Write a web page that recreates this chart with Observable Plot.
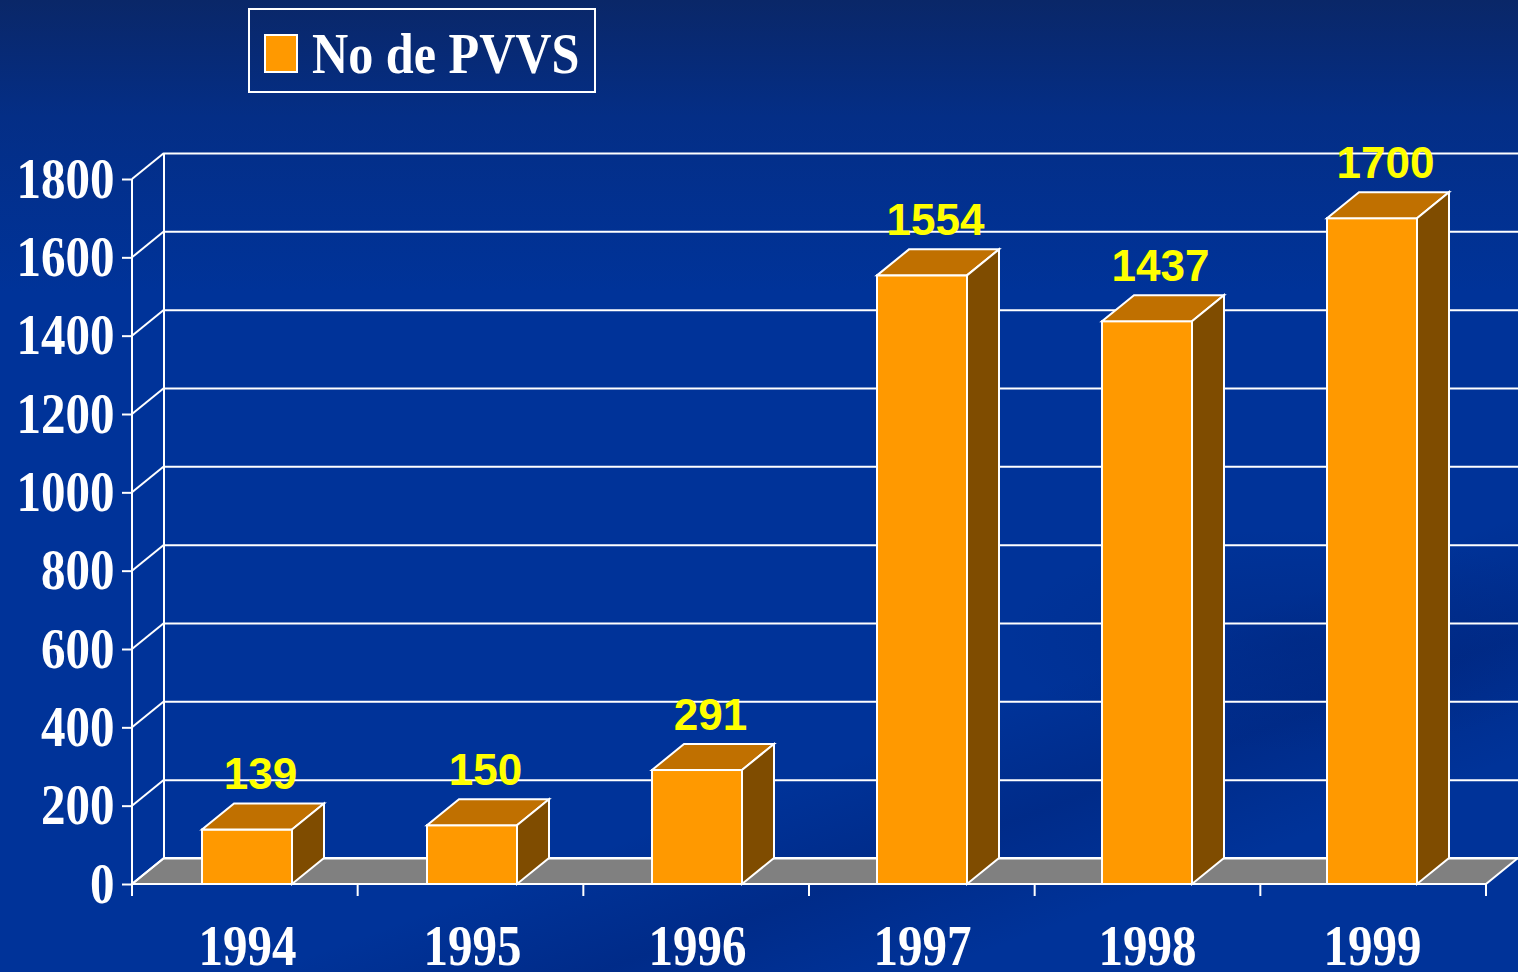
<!DOCTYPE html>
<html>
<head>
<meta charset="utf-8">
<script src="https://cdn.jsdelivr.net/npm/d3@7"></script>
<script src="https://cdn.jsdelivr.net/npm/@observablehq/plot@0.6"></script>
<style>
  html, body { margin: 0; padding: 0; }
  body {
    width: 1518px; height: 972px; overflow: hidden; position: relative;
    background:
      radial-gradient(ellipse 420px 160px at 1300px 640px, rgba(0,30,110,0.30), rgba(0,30,110,0) 70%),
      linear-gradient(160deg, rgba(0,0,0,0) 70%, rgba(0,25,100,0.30) 78%, rgba(0,0,0,0) 86%),
      linear-gradient(180deg, #0a2768 0%, #042e86 12%, #003399 30%, #003399 100%);
  }
  #legend { position: absolute; left: 248px; top: 8px; }
  #chart { position: absolute; left: 0; top: 100px; }
  #chart svg { background: transparent !important; overflow: visible; }
  #chart g[aria-label="y-axis tick label"], #chart g[aria-label="x-axis tick label"] {
    font-family: "Liberation Serif", "Times New Roman", serif; font-weight: bold; font-size: 57px;
  }
  #chart g[aria-label="value labels"] {
    font-family: "Liberation Sans", Arial, sans-serif; font-weight: bold; font-size: 44px;
  }
</style>
</head>
<body>
<div id="legend"></div>
<div id="chart"></div>
<script>
// ---- data ----
const years = ["1994", "1995", "1996", "1997", "1998", "1999"];
const counts = [139, 150, 291, 1554, 1437, 1700];
const yTicks = [0, 200, 400, 600, 800, 1000, 1200, 1400, 1600, 1800];
const seriesName = "No de PVVS";

// ---- style constants ----
const DX = 32, DY = -26;               // 3D depth offset (pixels)
const FRONT = "#FF9900", TOP = "#C07000", SIDE = "#7F4C00", FLOOR = "#808080";

const data = years.map((year, i) => ({year, value: counts[i]}));

// floor, side wall, axis lines and category ticks
function frame3d(index, scales, values, dims) {
  const y = scales.y;
  const x0 = dims.marginLeft, x1 = dims.width - dims.marginRight;
  const y0 = y(0), yTop = y(yTicks[yTicks.length - 1]);
  const g = d3.create("svg:g").attr("stroke", "white").attr("stroke-width", 2);
  g.append("polygon")
    .attr("points", [[x0, y0], [x1, y0], [x1 + DX, y0 + DY], [x0 + DX, y0 + DY]].map(p => p.join(",")).join(" "))
    .attr("fill", FLOOR);
  for (const t of yTicks) {
    g.append("line").attr("x1", x0).attr("y1", y(t)).attr("x2", x0 + DX).attr("y2", y(t) + DY);
  }
  g.append("line").attr("x1", x0 + DX).attr("x2", x0 + DX).attr("y1", y0 + DY).attr("y2", yTop + DY);
  g.append("line").attr("x1", x0).attr("x2", x0).attr("y1", y0 + 12).attr("y2", yTop);
  const n = years.length, step = (x1 - x0) / n;
  for (let k = 0; k <= n; k++) {
    const xb = x0 + k * step;
    g.append("line").attr("x1", xb).attr("x2", xb).attr("y1", y0).attr("y2", y0 + 12);
  }
  return g.node();
}

// 3D faces for each bar, derived from the rendered front rects
function bar3d(index, scales, values, dims, context, next) {
  const g = next(index, scales, values, dims, context);
  const rects = Array.from(g.querySelectorAll("rect"));
  for (const r of rects) {
    const x = +r.getAttribute("x"), yy = +r.getAttribute("y");
    const w = +r.getAttribute("width"), h = +r.getAttribute("height");
    const xr = x + w, yb = yy + h;
    const top = document.createElementNS("http://www.w3.org/2000/svg", "polygon");
    top.setAttribute("points", [[x, yy], [xr, yy], [xr + DX, yy + DY], [x + DX, yy + DY]].map(p => p.join(",")).join(" "));
    top.setAttribute("fill", TOP);
    const side = document.createElementNS("http://www.w3.org/2000/svg", "polygon");
    side.setAttribute("points", [[xr, yy], [xr + DX, yy + DY], [xr + DX, yb + DY], [xr, yb]].map(p => p.join(",")).join(" "));
    side.setAttribute("fill", SIDE);
    r.parentNode.appendChild(top);
    r.parentNode.appendChild(side);
  }
  return g;
}

const chart = Plot.plot({
  width: 1518,
  height: 872,
  marginLeft: 132,
  marginRight: 32,
  marginTop: 79,
  marginBottom: 88,
  style: {color: "white", background: "transparent", overflow: "visible"},
  x: {domain: years, paddingInner: 0.6, paddingOuter: 0.3, axis: null, label: null},
  y: {domain: [0, 1800], axis: null, label: null},
  marks: [
    frame3d,
    Plot.ruleY(yTicks, {y: d => d, dx: DX, dy: DY, stroke: "white", strokeWidth: 2}),
    Plot.barY(data, {x: "year", y: "value", fill: FRONT, stroke: "white", strokeWidth: 2, render: bar3d}),
    Plot.axisY(yTicks, {tickSize: 10, tickPadding: 8, tickFormat: d3.format("d"), stroke: "white", strokeWidth: 2,
      fill: "white", label: null, fontSize: 57, fontWeight: "bold", fontFamily: "Liberation Serif"}),
    Plot.axisX({tickSize: 0, tickPadding: 40, fill: "white", label: null,
      fontSize: 57, fontWeight: "bold", fontFamily: "Liberation Serif"}),
    Plot.text(data, {x: "year", y: "value", text: d => String(d.value), dx: 13, dy: -41, lineAnchor: "bottom",
      fill: "#FFFF00", fontSize: 44, fontWeight: "bold", fontFamily: "Liberation Sans", ariaLabel: "value labels"})
  ]
});

function squeeze(sel, s) {
  chart.querySelectorAll(sel).forEach(t => {
    const tr = t.getAttribute("transform") || "";
    const xa = t.getAttribute("x");
    if (xa != null && !isNaN(+xa)) t.setAttribute("x", (+xa) / s);
    t.setAttribute("transform", (tr + ` scale(${s},1)`).trim());
  });
}
squeeze('g[aria-label="y-axis tick label"] text', 0.86);
squeeze('g[aria-label="x-axis tick label"] text', 0.86);
squeeze('g[aria-label="value labels"] text', 0.9);

document.getElementById("chart").appendChild(chart);

// legend (above the chart)
const lg = d3.select("#legend").append("svg").attr("width", 350).attr("height", 88);
lg.append("rect").attr("x", 1).attr("y", 1).attr("width", 346).attr("height", 83)
  .attr("fill", "none").attr("stroke", "white").attr("stroke-width", 2);
lg.append("rect").attr("x", 17).attr("y", 27).attr("width", 32).attr("height", 37)
  .attr("fill", FRONT).attr("stroke", "white").attr("stroke-width", 2);
lg.append("text").attr("transform", "translate(64,65) scale(0.88,1)")
  .attr("fill", "white").attr("font-family", "Liberation Serif").attr("font-weight", "bold")
  .attr("font-size", 57).text(seriesName);
</script>
</body>
</html>
